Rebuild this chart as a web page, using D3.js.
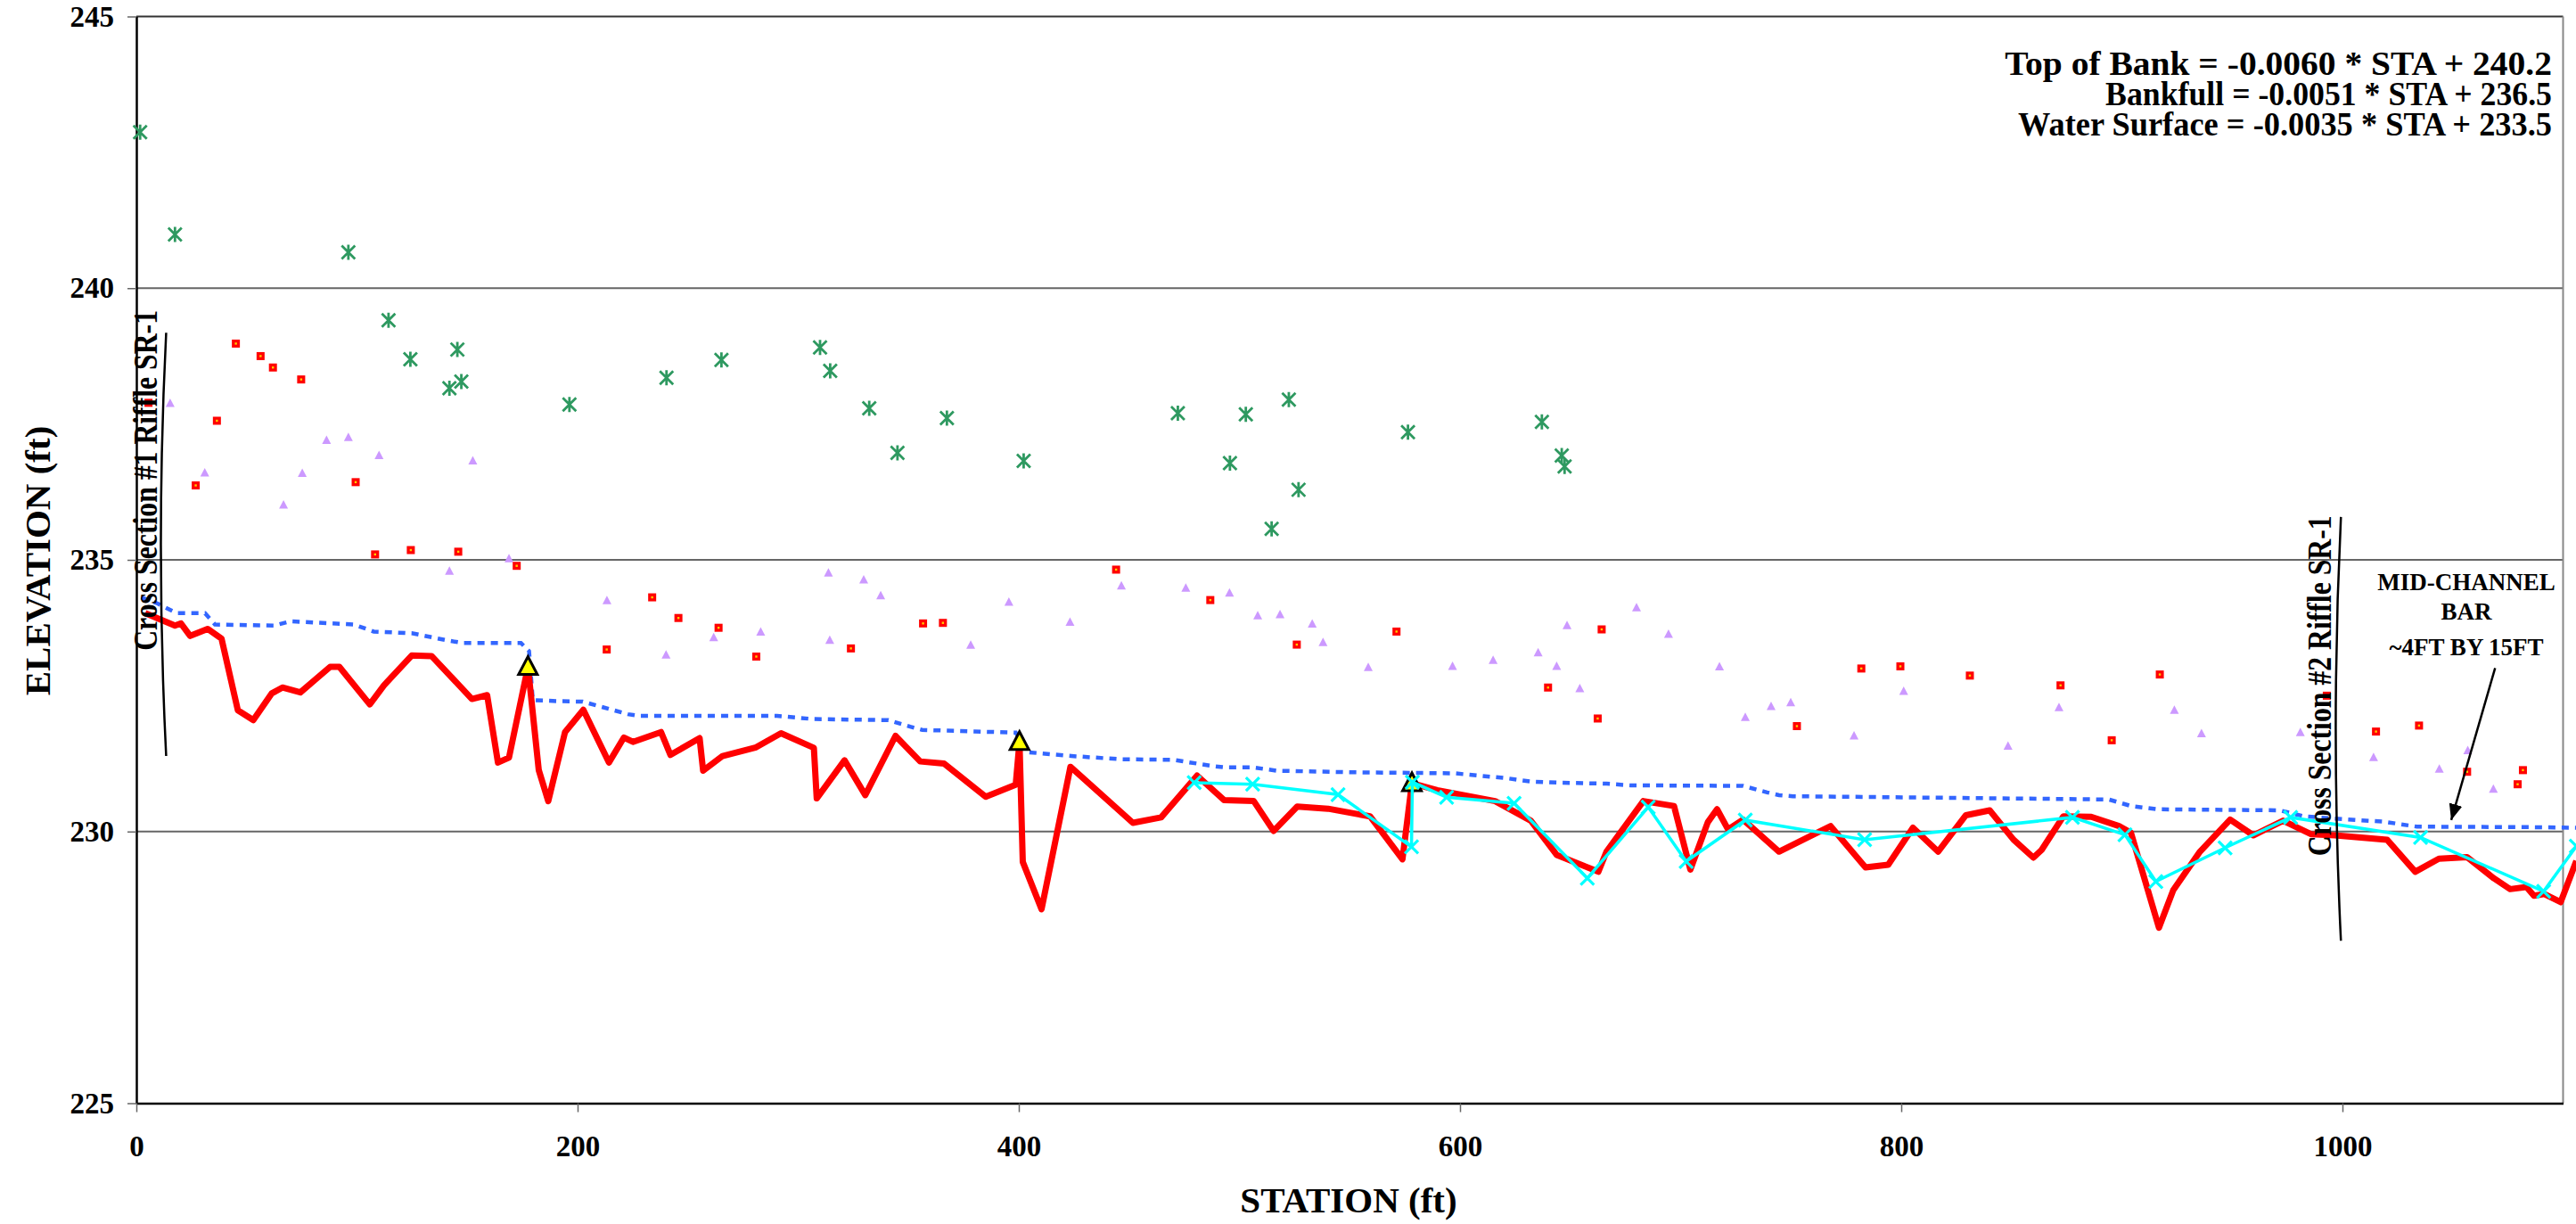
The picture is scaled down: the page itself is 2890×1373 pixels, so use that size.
<!DOCTYPE html>
<html lang="en">
<head>
	<meta charset="utf-8">
	<title>Longitudinal Profile</title>
	<script src="https://d3js.org/d3.v7.min.js"></script>
	<style>
		body { margin:0; background:#fff; overflow:hidden; }
		svg text { font-family:"Liberation Serif", "Times New Roman", serif; font-weight:bold; }
	</style>
</head>
<body>
<script type="text/javascript">

	// Canvas
	const w = 2890, h = 1373;

	// Axis ticks
	var xTicks = [0, 200, 400, 600, 800, 1000];
	var yTicks = [225, 230, 235, 240, 245];

	// Thalweg (station ft, elevation ft)
	var thalweg = [
		[4,234.02],[17.5,233.79],[20.2,233.83],[24.4,233.6],[32.3,233.73],[38.6,233.55],[46,232.23],[53,232.05],
		[61.3,232.54],[66.2,232.65],[74.3,232.56],[87.8,233.03],[92,233.03],[105.8,232.34],[112.2,232.69],
		[124.8,233.24],[133.8,233.23],[152.1,232.44],[159,232.51],[163.9,231.27],[168.9,231.36],[177.5,233.03],
		[182.4,231.13],[186.7,230.56],[194.3,231.83],[202.6,232.24],[214.2,231.27],[221,231.73],[225.1,231.65],
		[237.8,231.83],[242.1,231.41],[255.3,231.72],[256.9,231.12],[265.7,231.39],[280.9,231.55],[292.2,231.81],
		[307.1,231.54],[308.4,230.61],[321,231.31],[330.4,230.67],[344.1,231.76],[355.3,231.29],[366.1,231.25],
		[385,230.64],[398.6,230.86],[400.3,231.65],[401.8,229.44],[410.3,228.57],[423.4,231.19],[451.7,230.16],
		[464.5,230.26],[480.8,231.03],[493,230.58],[506.5,230.56],[515.5,230.01],[526.2,230.46],[540.2,230.42],
		[559.2,230.28],[573.9,229.49],[578.2,230.89],[589.7,230.76],[615.9,230.56],[632.1,230.2],[643.8,229.57],
		[662.7,229.26],[666.4,229.63],[683.1,230.56],[697,230.47],[704.4,229.3],[712.3,230.17],[716.5,230.41],
		[721.5,230.04],[728.3,230.22],[744.6,229.63],[768,230.1],[783.8,229.34],[794.1,229.39],[805.3,230.07],
		[816.7,229.63],[829.3,230.3],[840.1,230.39],[850.9,229.85],[859.9,229.52],[863.6,229.66],[873.5,230.28],
		[886.1,230.27],[898.7,230.1],[904.1,229.98],[916.8,228.23],[923.3,228.92],[935.4,229.63],[949.1,230.22],
		[959.6,229.93],[973.1,230.2],[985.9,229.95],[996.6,229.93],[1020.2,229.85],[1033,229.26],[1043.7,229.5],
		[1056.5,229.53],[1068.6,229.14],[1076,228.94],[1083.4,228.98],[1086.8,228.82],[1091.5,228.85],
		[1098.9,228.7],[1106,229.46]
	];

	// Water surface
	var waterSurface = [
		[2.2,234.31],[9.4,234.2],[14.8,234.09],[18.4,234.02],[31.1,234.02],[35.6,233.81],[62.6,233.79],[69.8,233.87],
		[98.6,233.81],[107.6,233.68],[124.8,233.65],[141.9,233.51],[148.2,233.47],[174.3,233.47],[178,233.32],
		[179.7,232.42],[190.6,232.4],[202.3,232.39],[208.6,232.32],[222.8,232.16],[227.3,232.13],[290.4,232.13],
		[306.6,232.07],[340.9,232.05],[350.8,231.93],[356.2,231.87],[398.6,231.82],[404,231.46],[423.8,231.39],
		[446.3,231.33],[469.9,231.32],[488.8,231.2],[493.3,231.18],[506,231.18],[516.8,231.12],[551,231.09],
		[578,231.08],[597.9,231.07],[621.3,230.98],[632.1,230.92],[644.7,230.9],[666.4,230.88],[677.2,230.85],
		[728.3,230.84],[739.2,230.72],[744.6,230.67],[750.9,230.65],[894.1,230.59],[904.1,230.47],[915.8,230.41],
		[971.7,230.39],[982.5,230.28],[996,230.24],[1018.9,230.18],[1033.7,230.09],[1086.2,230.08],[1106,230.07]
	];

	// Second profile survey (cyan)
	var profile2 = [
		[479.5,230.9],[506,230.87],[544.7,230.68],[578,229.72],[578.4,230.91],[593.9,230.63],[624.5,230.52],
		[657.7,229.14],[685.3,230.45],[702.5,229.45],[729.3,230.21],[783.4,229.85],[877.6,230.26],[901.4,229.94],
		[915.4,229.08],[946.8,229.7],[976.5,230.26],[1035.4,229.89],[1091.2,228.9],[1106,229.73]
	];

	// Head of riffle (yellow triangles)
	var headRiffle = [[177.5,233.03],[400.3,231.65],[578.2,230.89]];

	// Top of bank
	var topOfBank = [
		[1.7,242.87],[17.5,240.99],[96.1,240.66],[114.3,239.41],[124.2,238.69],[145.5,238.87],[147.3,238.28],
		[141.9,238.16],[196.3,237.86],[240.3,238.35],[265.2,238.68],[309.9,238.91],[314.5,238.48],[332.2,237.79],
		[367.4,237.61],[345,236.97],[402.2,236.82],[472.1,237.7],[502.9,237.68],[522.4,237.95],[495.7,236.78],
		[526.8,236.29],[514.6,235.57],[576.4,237.35],[637.1,237.54],[646.1,236.92],[647.4,236.72]
	];

	// Bankfull, left bank
	var bankfullLeft = [
		[45.1,238.98],[56.3,238.75],[61.9,238.54],[74.7,238.32],[5.5,237.89],[36.5,237.56],[26.9,236.37],
		[99.4,236.43],[108.2,235.1],[124.4,235.18],[145.9,235.15],[172.4,234.89],[213.2,233.35],[233.8,234.31],
		[245.7,233.93],[263.9,233.75],[281,233.22],[323.9,233.37],[356.6,233.83],[365.6,233.84],[444.1,234.82],
		[486.8,234.26],[526,233.44],[571.2,233.68],[639.9,232.65],[664.2,233.72],[662.4,232.08],[781.9,233],
		[799.6,233.04],[831.1,232.87],[752.7,231.94],[872.2,232.69],[895.4,231.68],[917.2,232.89],[992.9,232.5],
		[1015.2,231.84],[1034.7,231.95],[1056.5,231.1],[1081.8,231.13],[1079.4,230.87]
	];

	// Bankfull, right bank
	var bankfullRight = [
		[15.3,237.88],[31,236.6],[66.7,236.01],[75.2,236.59],[86.2,237.2],[96.1,237.25],[110,236.92],[152.5,236.82],
		[141.9,234.79],[168.9,235.02],[213.3,234.25],[240.1,233.25],[261.7,233.57],[283,233.67],[313.7,234.76],
		[329.7,234.63],[337.4,234.34],[314.3,233.52],[378.2,233.43],[395.5,234.22],[423.2,233.85],[446.5,234.52],
		[475.7,234.48],[495.5,234.39],[508.3,233.97],[518.4,233.99],[533,233.82],[537.9,233.48],[558.4,233.02],
		[596.6,233.04],[615,233.15],[635.4,233.29],[643.8,233.04],[648.5,233.79],[654.3,232.63],[680,234.12],
		[694.5,233.63],[717.6,233.03],[729.3,232.1],[741,232.3],[749.9,232.37],[778.6,231.76],[801.1,232.58],
		[848.4,231.57],[871.5,232.28],[923.8,232.23],[936.1,231.8],[980.9,231.82],[1014.1,231.36],[1043.9,231.15],
		[1056.8,231.49],[1068.4,230.78]
	];

	// Regression equations
	var equations = [
		"Top of Bank = -0.0060 * STA + 240.2",
		"Bankfull = -0.0051 * STA + 236.5",
		"Water Surface = -0.0035 * STA + 233.5"
	];
	var noteLines = ["MID-CHANNEL", "BAR", "~4FT BY 15FT"];

	// Scales
	var x = d3.scaleLinear().domain([0, 1100]).range([153, 2875.5]);
	var y = d3.scaleLinear().domain([225, 245]).range([1237.5, 18.5]);

	var svg = d3.select("body")
				.append("svg")
				.attr("width", w)
				.attr("height", h)
				.style("display", "block");

	// squeeze a text sideways so it spans a given width
	function fitWidth(sel, width) {
		sel.each(function(d, i) {
			var len = this.getComputedTextLength();
			var target = typeof width === "function" ? width(d, i) : width;
			var t = d3.select(this);
			t.attr("transform", (t.attr("transform") || "") + " scale(" + (target / len) + ",1)");
		});
	}

	// Gridlines and right border
	svg.append("g")
	   .selectAll("line")
	   .data(yTicks.slice(1))
	   .join("line")
	   .attr("x1", x(0)).attr("x2", x(1100))
	   .attr("y1", d => y(d)).attr("y2", d => y(d))
	   .attr("stroke", d => d === 245 ? "#333" : "#666")
	   .attr("stroke-width", 2);

	svg.append("line")
	   .attr("x1", x(1100)).attr("x2", x(1100))
	   .attr("y1", y(245)).attr("y2", y(225))
	   .attr("stroke", "#888")
	   .attr("stroke-width", 2);

	// Axes
	var yAxis = d3.axisLeft(y).tickValues(yTicks).tickSize(10).tickSizeOuter(0).tickPadding(15);
	var xAxis = d3.axisBottom(x).tickValues(xTicks).tickFormat(d3.format("d"))
				  .tickSize(10).tickSizeOuter(0).tickPadding(26);

	var gy = svg.append("g").attr("transform", "translate(" + x(0) + ",0)").call(yAxis);
	var gx = svg.append("g").attr("transform", "translate(0," + y(225) + ")").call(xAxis);

	[gx, gy].forEach(g => {
		g.attr("font-size", 33).attr("font-family", null);
		g.select(".domain").attr("stroke", "#000").attr("stroke-width", 2.5);
		g.selectAll(".tick line").attr("stroke", "#666").attr("stroke-width", 1.5);
		g.selectAll(".tick text").attr("fill", "#000");
	});

	// Axis titles
	svg.append("text")
	   .attr("x", 1513).attr("y", 1360)
	   .attr("text-anchor", "middle")
	   .attr("font-size", 41)
	   .text("STATION (ft)");

	svg.append("text")
	   .attr("transform", "translate(56,629) rotate(-90)")
	   .attr("text-anchor", "middle")
	   .attr("font-size", 41)
	   .text("ELEVATION (ft)");

	// Scatter markers
	var star = "M-7.5,-7.5L7.5,7.5M-7.5,7.5L7.5,-7.5M0,-8.5V8.5";
	svg.append("g")
	   .selectAll("path")
	   .data(topOfBank)
	   .join("path")
	   .attr("transform", d => "translate(" + x(d[0]) + "," + y(d[1]) + ")")
	   .attr("d", star)
	   .attr("fill", "none")
	   .attr("stroke", "#2e9960")
	   .attr("stroke-width", 2.8);

	svg.append("g")
	   .selectAll("path")
	   .data(bankfullRight)
	   .join("path")
	   .attr("transform", d => "translate(" + x(d[0]) + "," + y(d[1]) + ")")
	   .attr("d", "M0,-5.5L5,4L-5,4Z")
	   .attr("fill", "#cc99ff");

	var sq = svg.append("g")
				.selectAll("g")
				.data(bankfullLeft)
				.join("g")
				.attr("transform", d => "translate(" + x(d[0]) + "," + y(d[1]) + ")");
	sq.append("rect").attr("x", -4.5).attr("y", -4.5).attr("width", 9).attr("height", 9).attr("fill", "#ff0000");
	sq.append("rect").attr("x", -1.2).attr("y", -1.2).attr("width", 2.4).attr("height", 2.4).attr("fill", "#ffcc00");

	// Lines
	var line = d3.line().x(d => x(d[0])).y(d => y(d[1]));

	svg.append("path")
	   .datum(waterSurface)
	   .attr("d", line)
	   .attr("fill", "none")
	   .attr("stroke", "#3366ff")
	   .attr("stroke-width", 4.5)
	   .attr("stroke-dasharray", "8,7");

	svg.append("path")
	   .datum(thalweg)
	   .attr("d", line)
	   .attr("fill", "none")
	   .attr("stroke", "#ff0000")
	   .attr("stroke-width", 7)
	   .attr("stroke-linejoin", "round");

	svg.append("g")
	   .selectAll("path")
	   .data(headRiffle)
	   .join("path")
	   .attr("transform", d => "translate(" + x(d[0]) + "," + y(d[1]) + ")")
	   .attr("d", "M0,-11.5L10.5,8.5L-10.5,8.5Z")
	   .attr("fill", "#ffff00")
	   .attr("stroke", "#000")
	   .attr("stroke-width", 3)
	   .attr("stroke-linejoin", "miter");

	svg.append("path")
	   .datum(profile2)
	   .attr("d", line)
	   .attr("fill", "none")
	   .attr("stroke", "#00ffff")
	   .attr("stroke-width", 3.5);

	svg.append("g")
	   .selectAll("path")
	   .data(profile2)
	   .join("path")
	   .attr("transform", d => "translate(" + x(d[0]) + "," + y(d[1]) + ")")
	   .attr("d", "M-7.5,-7.5L7.5,7.5M-7.5,7.5L7.5,-7.5")
	   .attr("stroke", "#00ffff")
	   .attr("stroke-width", 3.2);

	// Cross section annotations
	var sections = [
		{label:"Cross Section #1 Riffle SR-1", sta:13.5, bow:8.7, top:239.18, bot:231.39, textSta:9.3, textBot:233.33},
		{label:"Cross Section #2 Riffle SR-1", sta:999.3, bow:994.6, top:235.79, bot:227.99, textSta:994.7, textBot:229.55}
	];
	sections.forEach(s => {
		svg.append("path")
		   .attr("d", "M" + x(s.sta) + "," + y(s.top) + "Q" + x(s.bow) + "," + y((s.top + s.bot) / 2) + " " + x(s.sta) + "," + y(s.bot))
		   .attr("fill", "none")
		   .attr("stroke", "#000")
		   .attr("stroke-width", 2.5);
		svg.append("text")
		   .attr("transform", "translate(" + x(s.textSta) + "," + y(s.textBot) + ") rotate(-90)")
		   .attr("font-size", 37)
		   .text(s.label)
		   .call(fitWidth, 382);
	});

	// Mid-channel bar note and arrow
	svg.append("defs")
	   .append("marker")
	   .attr("id", "head")
	   .attr("markerUnits", "userSpaceOnUse")
	   .attr("viewBox", "-18 -8 19 16")
	   .attr("refX", 0).attr("refY", 0)
	   .attr("markerWidth", 19).attr("markerHeight", 16)
	   .attr("orient", "auto")
	   .append("path")
	   .attr("d", "M0,0L-18,-7.5L-18,7.5Z")
	   .attr("fill", "#000");

	svg.append("line")
	   .attr("x1", x(1069.2)).attr("y1", y(233.01))
	   .attr("x2", x(1049.3)).attr("y2", y(230.21))
	   .attr("stroke", "#000")
	   .attr("stroke-width", 2.5)
	   .attr("marker-end", "url(#head)");

	svg.append("text")
	   .attr("text-anchor", "middle")
	   .attr("font-size", 27)
	   .selectAll("tspan")
	   .data(noteLines)
	   .join("tspan")
	   .attr("x", x(1056.2))
	   .attr("y", (d, i) => y([234.45, 233.9, 233.25][i]))
	   .text(d => d);

	// Equations
	var eqWidths = [614, 501, 599];
	svg.append("g")
	   .selectAll("text")
	   .data(equations)
	   .join("text")
	   .attr("transform", (d, i) => "translate(2863," + (84 + i * 34) + ")")
	   .attr("text-anchor", "end")
	   .attr("font-size", 37)
	   .text(d => d)
	   .call(fitWidth, (d, i) => eqWidths[i]);

</script>
</body>
</html>
